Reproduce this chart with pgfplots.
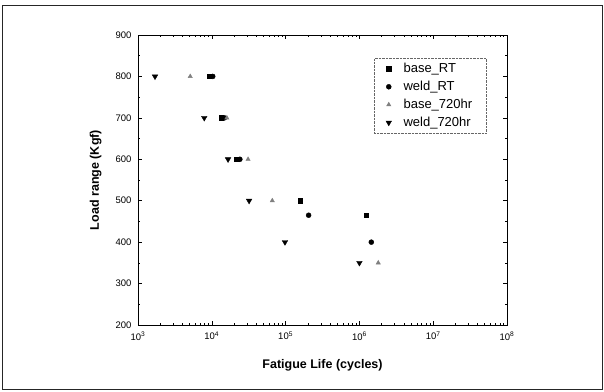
\documentclass[border=0pt]{standalone}
\usepackage{fontspec}
\setmainfont{Liberation Sans}
\usepackage{pgfplots}
\pgfplotsset{compat=1.18}
\begin{document}
\begin{tikzpicture}[x=1pt,y=1pt]
\path[use as bounding box] (0,0) rectangle (604,391);
\draw[line width=0.8pt, black!85] (2,2) rectangle (602,386);
\begin{axis}[
  at={(138pt,66pt)}, anchor=south west,
  scale only axis, width=369pt, height=290pt,
  xmode=log, xmin=1e3, xmax=1e8, ymin=200, ymax=900,
  xtick={1e3,1e4,1e5,1e6,1e7,1e8},
  xticklabels={10\textsuperscript{3},10\textsuperscript{4},10\textsuperscript{5},10\textsuperscript{6},10\textsuperscript{7},10\textsuperscript{8}},
  ytick={200,300,400,500,600,700,800,900},
  minor y tick num=1,
  tick align=inside,
  major tick length=4pt, minor tick length=2.2pt,
  axis line style={line width=0.9pt},
  every tick/.style={black, line width=0.6pt},
  /pgf/number format/assume math mode=true,
  /pgf/number format/1000 sep={},
  tick label style={font=\fontsize{9.5}{10}\selectfont},
  yticklabel style={xshift=-3pt},
  xticklabel style={yshift=-3pt},
  xlabel={\textbf{Fatigue Life (cycles)}},
  ylabel={\textbf{Load range (Kgf)}},
  label style={font=\fontsize{12.5}{14}\selectfont},
  xlabel style={at={(axis description cs:0.5,0)}, anchor=north, yshift=-31pt},
  ylabel style={at={(axis description cs:0,0.5)}, anchor=south, yshift=33pt},
  legend style={at={(rel axis cs:0.639,0.92)}, anchor=north west,
    font=\fontsize{13}{14}\selectfont, draw=black!60, densely dotted,
    inner xsep=12pt, inner ysep=3pt, row sep=3pt, column sep=10pt},
  legend cell align=left,
]
\addplot[only marks, mark=square*, mark size=2.2pt, black, solid] coordinates {
 (9300,800) (13500,700) (21800,600) (157000,500) (1230000,465)};
\addlegendentry{base\_RT}
\addplot[only marks, mark=*, mark size=2.5pt, black, solid] coordinates {
 (10300,800) (14800,700) (24000,600) (205000,465) (1450000,400)};
\addlegendentry{weld\_RT}
\addplot[only marks, mark=triangle*, mark size=2.5pt, gray, solid] coordinates {
 (5100,800) (16000,700) (31000,600) (66000,500) (1800000,350)};
\addlegendentry{base\_720hr}
\addplot[only marks, mark=triangle*, mark options={rotate=180}, mark size=3.2pt, black, solid] coordinates {
 (1700,800) (7900,700) (16600,600) (32000,500) (98000,400) (1000000,350)};
\addlegendentry{weld\_720hr}
\end{axis}
\end{tikzpicture}
\end{document}
